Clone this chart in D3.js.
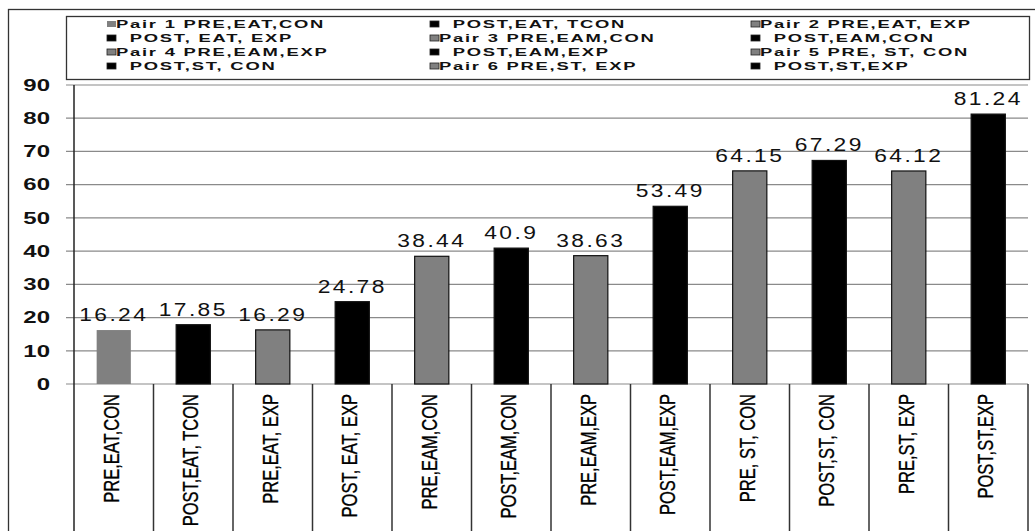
<!DOCTYPE html>
<html>
<head>
<meta charset="utf-8">
<script src="https://cdn.jsdelivr.net/npm/d3@7"></script>
<style>
  body { margin: 0; background: #fff; }
  svg { display: block; }
</style>
</head>
<body>
<div id="chart"></div>
<script>
// data
var categories = ["PRE,EAT,CON", "POST,EAT, TCON", "PRE,EAT, EXP", "POST, EAT, EXP",
  "PRE,EAM,CON", "POST,EAM,CON", "PRE,EAM,EXP", "POST,EAM,EXP",
  "PRE, ST, CON", "POST,ST, CON", "PRE,ST, EXP", "POST,ST,EXP"];
var values = [16.24, 17.85, 16.29, 24.78, 38.44, 40.9, 38.63, 53.49, 64.15, 67.29, 64.12, 81.24];
var legendLabels = ["Pair 1 PRE,EAT,CON", "  POST,EAT, TCON", "Pair 2 PRE,EAT, EXP",
  "  POST, EAT, EXP", "Pair 3 PRE,EAM,CON", "  POST,EAM,CON",
  "Pair 4 PRE,EAM,EXP", "  POST,EAM,EXP", "Pair 5 PRE, ST, CON",
  "  POST,ST, CON", "Pair 6 PRE,ST, EXP", "  POST,ST,EXP"];
var yTicks = [0, 10, 20, 30, 40, 50, 60, 70, 80, 90];

var svgWidth = 1035;
var svgHeight = 531;
var margin = { top: 85, right: 7, bottom: 147, left: 74 };
var width = svgWidth - margin.left - margin.right;
var height = svgHeight - margin.top - margin.bottom;

var colorOf = i => (i % 2 === 0 ? "#808080" : "#000000");
var font = "Arial, 'Liberation Sans', sans-serif";

var svg = d3.select("#chart").append("svg")
  .attr("width", svgWidth)
  .attr("height", svgHeight);

// outer frame
svg.append("rect")
  .attr("x", 8.5).attr("y", 9.5)
  .attr("width", 1040).attr("height", 540)
  .attr("fill", "none").attr("stroke", "#333").attr("stroke-width", 1.3);

var chartGroup = svg.append("g")
  .attr("transform", `translate(${margin.left}, ${margin.top})`);

var xScale = d3.scaleBand()
  .domain(categories)
  .range([0, width])
  .paddingInner(0.57)
  .paddingOuter(0.285);

var yScale = d3.scaleLinear()
  .domain([0, 90])
  .range([height, 0]);

// gridlines + small ticks to the left
chartGroup.append("g")
  .selectAll("line")
  .data(yTicks)
  .enter()
  .append("line")
  .attr("x1", -8)
  .attr("x2", width)
  .attr("y1", d => yScale(d))
  .attr("y2", d => yScale(d))
  .attr("stroke", "#8a8a8a")
  .attr("stroke-width", 1.2);

// y tick labels (stretched wide like the original)
chartGroup.append("g")
  .selectAll("text")
  .data(yTicks)
  .enter()
  .append("text")
  .attr("transform", d => `translate(-24, ${yScale(d)}) scale(1.5,1)`)
  .attr("dy", "0.36em")
  .attr("text-anchor", "end")
  .attr("font-family", font)
  .attr("font-weight", "bold")
  .attr("font-size", "16px")
  .attr("fill", "#111")
  .text(d => d);

// y axis line
chartGroup.append("line")
  .attr("x1", 0).attr("x2", 0)
  .attr("y1", 0).attr("y2", svgHeight)
  .attr("stroke", "#222").attr("stroke-width", 1.5);

// category dividers below the axis (right edge of each band)
var step = xScale.step();
chartGroup.append("g")
  .selectAll("line")
  .data(categories)
  .enter()
  .append("line")
  .attr("x1", (d, i) => step * (i + 1))
  .attr("x2", (d, i) => step * (i + 1))
  .attr("y1", height)
  .attr("y2", svgHeight)
  .attr("stroke", "#333")
  .attr("stroke-width", 1.5);

// bars
chartGroup.selectAll("rect.bar")
  .data(values)
  .enter()
  .append("rect")
  .attr("class", "bar")
  .attr("x", (d, i) => xScale(categories[i]))
  .attr("y", d => yScale(d))
  .attr("width", xScale.bandwidth())
  .attr("height", d => height - yScale(d))
  .attr("fill", (d, i) => colorOf(i))
  .attr("stroke", (d, i) => (i === 0 ? "none" : "#111"))
  .attr("stroke-width", 1.2);

// value labels
chartGroup.append("g")
  .selectAll("text")
  .data(values)
  .enter()
  .append("text")
  .attr("transform", (d, i) => `translate(${xScale(categories[i]) + xScale.bandwidth() / 2}, ${yScale(d) - 9}) scale(1.2,1)`)
  .attr("text-anchor", "middle")
  .attr("font-family", font)
  .attr("font-size", "19px")
  .attr("letter-spacing", "2px")
  .attr("fill", "#111")
  .text(d => d);

// category labels, rotated
chartGroup.append("g")
  .selectAll("text")
  .data(categories)
  .enter()
  .append("text")
  .attr("transform", d => `translate(${xScale(d) + xScale.bandwidth() / 2}, ${height + 10}) scale(1.3,1) rotate(-90)`)
  .attr("dy", "0.24em")
  .attr("text-anchor", "end")
  .attr("font-family", font)
  .attr("font-size", "16.5px")
  .attr("fill", "#000")
  .attr("stroke", "#000")
  .attr("stroke-width", 0.25)
  .text(d => d);

// legend
var legend = svg.append("g");
legend.append("rect")
  .attr("x", 66.5).attr("y", 16.5)
  .attr("width", 963).attr("height", 63)
  .attr("fill", "#fff").attr("stroke", "#333").attr("stroke-width", 1.3);

var colX = [107, 430, 751];
var rowY = [24, 38, 52, 66];

var items = legend.selectAll("g.item")
  .data(legendLabels)
  .enter()
  .append("g")
  .attr("class", "item")
  .attr("transform", (d, i) => `translate(${colX[i % 3]}, ${rowY[Math.floor(i / 3)]})`);

items.append("rect")
  .attr("x", 0).attr("y", -3)
  .attr("width", 9).attr("height", 6)
  .attr("fill", (d, i) => colorOf(i))
  .attr("stroke", (d, i) => (i === 0 ? "none" : "#222"))
  .attr("stroke-width", 0.8);

items.append("text")
  .attr("transform", "translate(9, 0) scale(1.6,1)")
  .attr("dy", "0.36em")
  .attr("font-family", font)
  .attr("font-weight", "bold")
  .attr("font-size", "11.5px")
  .attr("letter-spacing", "1.1px")
  .attr("fill", "#111")
  .style("white-space", "pre")
  .text(d => d);
</script>
</body>
</html>
